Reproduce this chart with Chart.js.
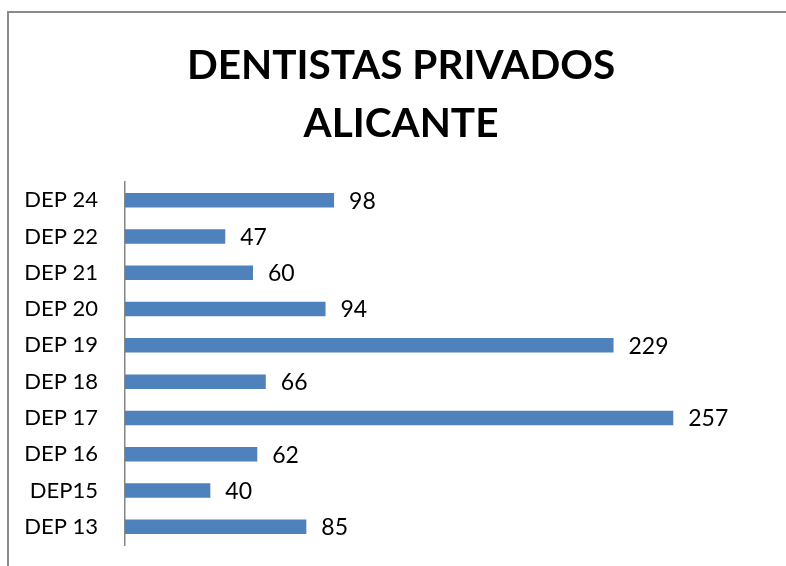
<!DOCTYPE html>
<html>
<head>
<meta charset="utf-8">
<script src="https://cdn.jsdelivr.net/npm/chart.js@4"></script>
<style>
  html, body { margin: 0; padding: 0; background: #fff; }
  #frame { position: absolute; left: 7px; top: 11px; width: 820px; height: 620px; border: 2px solid #8a8a8a; }
  #wrap { position: absolute; left: 0; top: 0; width: 786px; height: 566px; }
</style>
</head>
<body>
<div id="frame"></div>
<div id="wrap"><canvas id="chart" width="786" height="566"></canvas></div>
<script>
// Dentistas privados por departamento
const categories = ['DEP 24', 'DEP 22', 'DEP 21', 'DEP 20', 'DEP 19', 'DEP 18', 'DEP 17', 'DEP 16', 'DEP15', 'DEP 13'];
const dentistas = [98, 47, 60, 94, 229, 66, 257, 62, 40, 85];
const titleLines = ['DENTISTAS PRIVADOS', 'ALICANTE'];

const FONT = "Lato, 'Open Sans', sans-serif";

// title, centred over the chart frame
const titleBlock = {
  id: 'titleBlock',
  afterDraw(chart) {
    const ctx = chart.ctx;
    ctx.save();
    ctx.font = 'bold 40.5px ' + FONT;
    ctx.fillStyle = '#000';
    ctx.textAlign = 'center';
    ctx.textBaseline = 'middle';
    titleLines.forEach((line, i) => ctx.fillText(line, 401, 66 + i * 57.5));
    ctx.restore();
  }
};

// value labels to the right of each bar
const barLabels = {
  id: 'barLabels',
  afterDatasetsDraw(chart) {
    const ctx = chart.ctx;
    const meta = chart.getDatasetMeta(0);
    ctx.save();
    ctx.font = '23px ' + FONT;
    ctx.fillStyle = '#000';
    ctx.textAlign = 'left';
    ctx.textBaseline = 'middle';
    meta.data.forEach((bar, i) => {
      ctx.fillText(String(chart.data.datasets[0].data[i]), bar.x + 15, bar.y + 1);
    });
    ctx.restore();
  }
};

new Chart(document.getElementById('chart'), {
  type: 'bar',
  data: {
    labels: categories,
    datasets: [{
      label: 'Dentistas',
      data: dentistas,
      backgroundColor: '#4F81BD',
      borderWidth: 0,
      categoryPercentage: 1,
      barPercentage: 0.4
    }]
  },
  options: {
    indexAxis: 'y',
    responsive: false,
    animation: false,
    layout: { padding: { left: 0, right: 21, top: 182, bottom: 21 } },
    plugins: {
      legend: { display: false },
      tooltip: { enabled: false },
      title: { display: false }
    },
    scales: {
      x: { display: false, min: 0, max: 300 },
      y: {
        afterFit(scale) {
          scale.width = 125;
          scale.paddingTop = 0;
          scale.paddingBottom = 0;
        },
        grid: { display: false, drawTicks: false },
        border: { display: true, color: '#868686', width: 1.5 },
        ticks: { color: '#000', padding: 27, font: { family: FONT, size: 22 } }
      }
    }
  },
  plugins: [barLabels, titleBlock]
});
</script>
</body>
</html>
